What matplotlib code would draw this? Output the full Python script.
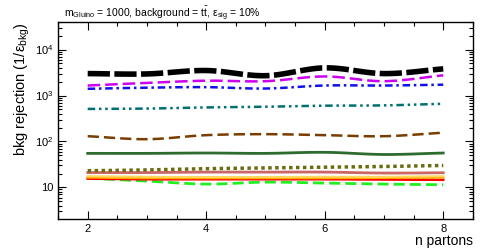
import matplotlib
matplotlib.use("Agg")
import matplotlib.pyplot as plt
import numpy as np
from matplotlib.ticker import FuncFormatter, MultipleLocator, LogLocator, NullFormatter

plt.rcParams["font.family"] = ["Liberation Sans", "DejaVu Sans"]
plt.rcParams["mathtext.fontset"] = "custom"
plt.rcParams["mathtext.rm"] = "Liberation Sans"
plt.rcParams["mathtext.it"] = "Liberation Sans:italic"
plt.rcParams["mathtext.bf"] = "Liberation Sans:bold"

# -------------------------------
# Data
# -------------------------------
n_partons = [2, 3, 4, 5, 6, 7, 8]

rej_black = [3000, 2950, 3500, 2700, 4000, 3000, 3800]
rej_magenta = [1650, 1880, 2100, 2050, 2600, 2050, 2750]
rej_blue = [1400, 1480, 1520, 1420, 1650, 1650, 1720]
rej_teal = [510, 520, 550, 570, 600, 610, 660]
rej_brown = [130, 112, 137, 144, 137, 130, 155]
rej_dkgreen = [55, 55, 56, 55, 58, 52, 56]
rej_olive = [23, 24, 25.5, 26.5, 27.5, 28.5, 30]
rej_rose = [21, 21, 21.5, 21.5, 21.5, 20.5, 20.8]
rej_yellow = [17.5, 17, 16.8, 16.8, 17, 17, 17.5]
rej_orange = [16.5, 16, 16, 16, 16, 16.2, 16.5]
rej_red = [15.5, 15, 15, 15, 15, 14.8, 14.6]
rej_green = [15.8, 13.7, 11.8, 13, 12.4, 11.8, 11.4]


def smooth(x, y, n=20):
    # Catmull-Rom curve through the points in (x, log y), like ROOT's "C" option
    x = np.asarray(x, float)
    ly = np.log10(np.asarray(y, float))
    px = np.concatenate([[2 * x[0] - x[1]], x, [2 * x[-1] - x[-2]]])
    py = np.concatenate([[2 * ly[0] - ly[1]], ly, [2 * ly[-1] - ly[-2]]])
    xs, ys = [], []
    t = np.linspace(0, 1, n, endpoint=False)
    for i in range(1, len(px) - 2):
        for arr, out in ((px, xs), (py, ys)):
            p0, p1, p2, p3 = arr[i - 1], arr[i], arr[i + 1], arr[i + 2]
            out.extend(0.5 * (2 * p1 + (-p0 + p2) * t + (2 * p0 - 5 * p1 + 4 * p2 - p3) * t ** 2
                              + (-p0 + 3 * p1 - 3 * p2 + p3) * t ** 3))
    xs.append(x[-1])
    ys.append(ly[-1])
    return np.array(xs), 10 ** np.array(ys)


fig = plt.figure(figsize=(4.88, 2.52), dpi=100)
ax = fig.add_axes([0.119, 0.131, 0.850, 0.782])

series = [
    (rej_green, "#22ee22", (0, (4, 1.8)), 2.0),
    (rej_red, "#ff0000", "-", 1.8),
    (rej_orange, "#ffaa00", "-", 1.8),
    (rej_yellow, "#ffd860", "-", 1.5),
    (rej_rose, "#cc6666", "-", 2.0),
    (rej_olive, "#6b6b10", (0, (1, 1)), 2.5),
    (rej_dkgreen, "#2e6b2e", "-", 2.0),
    (rej_brown, "#7a3d00", (0, (4.5, 2)), 1.8),
    (rej_teal, "#007070", (0, (3, 1.5, 1, 1.5, 1, 1.5)), 1.8),
    (rej_blue, "#1010ee", (0, (3, 1.5, 1, 1.5)), 1.8),
    (rej_magenta, "#cc00ee", (0, (5, 2)), 1.8),
    (rej_black, "#000000", (0, (4, 0.8)), 4.0),
]

for vals, col, ls, lw in series:
    xs, ys = smooth(n_partons, vals)
    ax.plot(xs, ys, color=col, linestyle=ls, linewidth=lw)

ax.set_yscale("log")
ax.set_xlim(1.5, 8.5)
ax.set_ylim(2.05, 4e4)

ax.xaxis.set_major_locator(MultipleLocator(2))
ax.xaxis.set_minor_locator(MultipleLocator(0.5))
ax.yaxis.set_major_locator(LogLocator(base=10))
ax.yaxis.set_minor_locator(LogLocator(base=10, subs=np.arange(2, 10)))
ax.yaxis.set_minor_formatter(NullFormatter())


def log_fmt(v, pos):
    e = int(round(np.log10(v)))
    if e == 1:
        return "10"
    return r"$10^{%d}$" % e


ax.yaxis.set_major_formatter(FuncFormatter(log_fmt))
ax.tick_params(which="both", direction="in", top=True, right=True, labelsize=8, width=0.8)
ax.tick_params(which="major", length=6)
ax.tick_params(which="minor", length=3)
for sp in ax.spines.values():
    sp.set_linewidth(1.0)

ax.set_ylabel(r"bkg rejection (1/$\mathrm{ε}_{\rm bkg}$)", fontsize=10.5, loc="top")
ax.yaxis.set_label_coords(-0.062, 1.0)
ax.set_xlabel("n partons", fontsize=10, loc="right")
ax.xaxis.set_label_coords(1.0, -0.075)
fig.text(0.131, 0.945, r"m$_{\rm Gluino}$ = 1000, background = t$\bar{\rm t}$, $\mathrm{ε}_{\rm sig}$ = 10%",
         fontsize=7.5, ha="left", va="center")

fig.savefig("out.png", dpi=100)
